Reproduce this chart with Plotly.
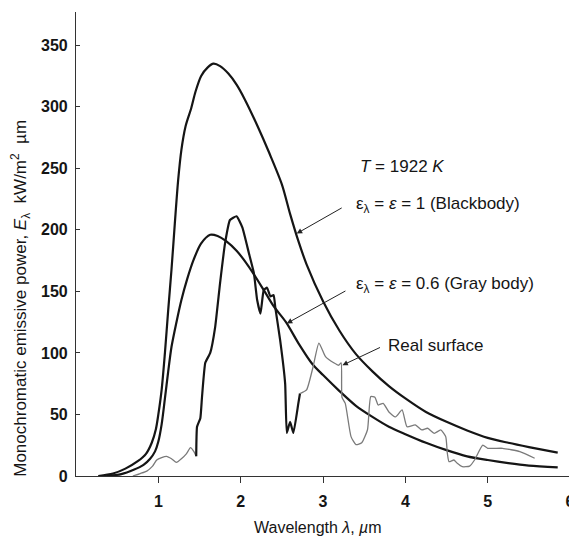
import plotly.graph_objects as go

# Wavelength (µm) and emissive power (kW/m²·µm)
bb_x = [0.27, 0.45, 0.6, 0.75, 0.85, 0.92, 0.97, 1.0, 1.04, 1.08, 1.12, 1.16, 1.2, 1.24,
        1.28, 1.33, 1.40, 1.45, 1.52, 1.60, 1.67, 1.75, 1.85, 1.95, 2.05, 2.2, 2.35, 2.5,
        2.6, 2.7, 2.8, 3.0, 3.2, 3.4, 3.6, 3.8, 4.0, 4.25, 4.5, 4.75, 5.0, 5.25, 5.5, 5.85]
bb_y = [0, 2, 6, 12, 18, 27, 38, 50, 70, 100, 135, 168, 205, 240,
        265, 284, 299, 312, 325, 332, 335, 333, 327, 318, 306, 285, 262, 237,
        213, 191, 172, 142, 118, 99, 85, 73, 63, 52, 44, 37, 31, 27, 23.5, 19]

gray_x = [0.37, 0.55, 0.7, 0.82, 0.9, 0.96, 1.0, 1.04, 1.08, 1.12, 1.16, 1.22, 1.28, 1.35,
          1.43, 1.52, 1.63, 1.72, 1.82, 1.95, 2.1, 2.29, 2.4, 2.55, 2.7, 2.87, 3.0, 3.2,
          3.4, 3.6, 3.8, 4.0, 4.25, 4.5, 4.75, 5.0, 5.25, 5.5, 5.85]
gray_y = [0, 1.5, 5, 9, 14, 20, 28, 42, 63, 85, 105, 125, 143, 160,
          176, 189, 196, 195, 191, 183, 170, 150, 138, 125, 108, 91, 82, 69,
          57, 48, 40, 34, 27, 21, 16, 13, 10.5, 8.5, 7]

real_x = [0.69, 0.78, 0.86, 0.93, 0.98, 1.04, 1.1, 1.16, 1.22, 1.28, 1.34, 1.39, 1.43, 1.46,
          1.47, 1.51, 1.53, 1.57, 1.63, 1.69, 1.75, 1.81, 1.87, 1.95, 2.02, 2.1, 2.16, 2.2,
          2.24, 2.28, 2.32, 2.36, 2.4, 2.42, 2.48, 2.54, 2.56, 2.6, 2.64, 2.7, 2.72, 2.8,
          2.88, 2.95, 3.03, 3.13, 3.19, 3.22, 3.23, 3.27, 3.34, 3.4, 3.47, 3.54, 3.58, 3.63,
          3.67, 3.73, 3.8, 3.88, 3.96, 4.02, 4.12, 4.2, 4.27, 4.35, 4.43, 4.49, 4.51, 4.53,
          4.59, 4.63, 4.69, 4.78, 4.84, 4.94, 5.0, 5.18, 5.39, 5.57]
real_y = [0, 2, 4, 8, 13, 15, 16, 14, 11, 14, 18, 23, 20, 16,
          40, 47, 64, 92, 100, 121, 157, 189, 208, 211, 202, 181, 165, 143,
          132, 151, 153, 146, 147, 137, 110, 75, 35, 44, 35, 59, 67, 70,
          89, 108, 97, 92, 90, 92, 64, 59, 32, 25.5, 27, 37.6, 64.5, 64,
          57.7, 59, 52, 48, 53.7, 40, 41.5, 37.4, 38.8, 34.7, 37.4, 32, 18.4, 11.7,
          13, 10.3, 7.6, 8, 13, 25, 22.5, 22.5, 19.8, 14.4]

x_ticks = [1, 2, 3, 4, 5, 6]
y_ticks = [0, 50, 100, 150, 200, 250, 300, 350]

FONT = "Liberation Sans, Arial, sans-serif"
INK = "#151515"

fig = go.Figure()
fig.add_trace(go.Scatter(x=bb_x, y=bb_y, mode="lines",
                         line=dict(color=INK, width=2.2, shape="spline", smoothing=0.8)))
fig.add_trace(go.Scatter(x=gray_x, y=gray_y, mode="lines",
                         line=dict(color=INK, width=2.2, shape="spline", smoothing=0.8)))
# real surface: thin grey tails, heavy black middle section
fig.add_trace(go.Scatter(x=real_x[:14], y=real_y[:14], mode="lines",
                         line=dict(color="#7a7a7a", width=1.3, shape="spline", smoothing=0.5)))
fig.add_trace(go.Scatter(x=real_x[13:41], y=real_y[13:41], mode="lines",
                         line=dict(color=INK, width=2.2, shape="spline", smoothing=0.4)))
fig.add_trace(go.Scatter(x=real_x[40:], y=real_y[40:], mode="lines",
                         line=dict(color="#7a7a7a", width=1.3, shape="spline", smoothing=0.5)))

txt = dict(font=dict(family=FONT, size=17, color=INK), showarrow=False,
           xanchor="left", yanchor="middle", xref="x", yref="y")

# page pixel -> data (page has 8px body margin; plot area starts at page x 76, y 12..476)
def px_to_data(px, py):
    return (px - 76) / 82.33, (476 - py) / (464 / 377)

ann = []
for s, (px, py) in [("<i>T</i> = 1922 <i>K</i>", (358, 166)),
                    ("ε<sub>λ</sub> = <i>ε</i> = 1 (Blackbody)", (354, 205)),
                    ("ε<sub>λ</sub> = <i>ε</i> = 0.6 (Gray body)", (354, 285)),
                    ("Real surface", (386, 345))]:
    xd, yd = px_to_data(px, py)
    ann.append(dict(text=s, x=xd, y=yd, **txt))

# arrows (tip on curve, tail near label)
for (tx, ty), (sx, sy) in [((2.68, 197), (3.245, 218.5)),
                           ((2.56, 124), (3.29, 151)),
                           ((3.235, 90), (3.71, 105))]:
    ann.append(dict(x=tx, y=ty, ax=sx, ay=sy, xref="x", yref="y", axref="x", ayref="y",
                    text="", showarrow=True, arrowhead=2, arrowsize=1.1, arrowwidth=1,
                    arrowcolor="#222"))

X_MAX = 6.06
PLOT_W = 569 - 68 - 2
ann.append(dict(text="Monochromatic emissive power, <i>E</i><sub>λ</sub>  kW/m<sup>2</sup>  µm",
                x=-55 / PLOT_W, y=0.382, xref="paper", yref="paper", textangle=-90, showarrow=False,
                font=dict(family=FONT, size=17, color=INK), xanchor="center", yanchor="middle"))
ann.append(dict(text="Wavelength <i>λ</i>, <i>µ</i>m", x=242 / PLOT_W, y=-0.112, xref="paper", yref="paper",
                showarrow=False, font=dict(family=FONT, size=16, color=INK),
                xanchor="center", yanchor="middle"))

fig.update_layout(
    width=569, height=528,
    margin=dict(l=68, r=2, t=4, b=60),
    paper_bgcolor="white", plot_bgcolor="white",
    showlegend=False,
    annotations=ann,
    xaxis=dict(range=[0, X_MAX], tickvals=x_ticks, ticks="outside", ticklen=6, tickwidth=1,
               tickcolor="#333", showline=True, linecolor="#333", linewidth=1.2,
               showgrid=False, zeroline=False, automargin=False, ticklabelstandoff=5,
               ticklabeloverflow="allow",
               tickfont=dict(family=FONT, size=16, color=INK, weight="bold")),
    yaxis=dict(range=[0, 377], tickvals=y_ticks, ticks="inside", ticklen=4, tickwidth=1,
               tickcolor="#333", showline=True, linecolor="#333", linewidth=1.2,
               showgrid=False, zeroline=False, automargin=False, ticklabelstandoff=4,
               tickfont=dict(family=FONT, size=16, color=INK, weight="bold")),
)

fig.write_html("out.html")
